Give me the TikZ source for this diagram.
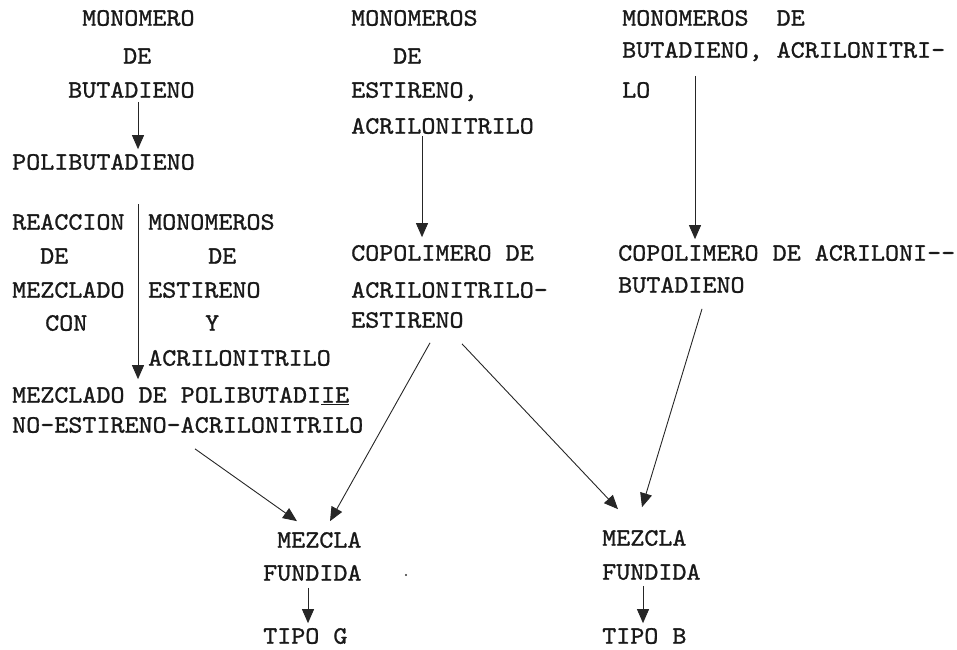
\documentclass[tikz,border=0pt]{standalone}
\usepackage{fontspec}
\newfontfamily\twfont{lmmono10-regular.otf}[FakeStretch=1.07,FakeBold=1.1]
\usetikzlibrary{arrows.meta,calc}
\tikzset{
  tw/.style={inner sep=0pt, anchor=west, text height=15.3pt, text depth=0pt,
    font=\twfont\fontsize{25}{30}\selectfont, text=black!90},
  arr/.style={draw=black!85, line width=0.9pt, -{Triangle[width=12pt,length=14pt]}},
}
\begin{document}
\begin{tikzpicture}[x=1pt,y=1pt]
\useasboundingbox (0,0) rectangle (957,-649);
% column 1
\node[tw] (a1) at (82,-18) {MONOMERO};
\node[tw] (a2) at (123,-56) {DE};
\node[tw] (a3) at (68,-90) {BUTADIENO};
\node[tw] (b1) at (12,-162) {POLIBUTADIENO};
\node[tw] (c1) at (12,-222) {REACCION};
\node[tw] (c2) at (40,-256) {DE};
\node[tw] (c3) at (12,-290) {MEZCLADO};
\node[tw] (c4) at (45,-323) {CON};
\node[tw] (d1) at (148,-222) {MONOMEROS};
\node[tw] (d2) at (208,-256) {DE};
\node[tw] (d3) at (148,-290) {ESTIRENO};
\node[tw] (d4) at (205,-323) {Y};
\node[tw] (d5) at (148,-358) {ACRILONITRILO};
\node[tw] (e1) at (12,-395) {MEZCLADO DE POLIBUTADI\underline{IE}};
\node[tw] (e2) at (12,-425) {NO-ESTIRENO-ACRILONITRILO};
% column 2
\node[tw] (f1) at (351,-18) {MONOMEROS};
\node[tw] (f2) at (393,-56) {DE};
\node[tw] (f3) at (351,-90) {ESTIRENO,};
\node[tw] (f4) at (351,-126) {ACRILONITRILO};
\node[tw] (g1) at (351,-253) {COPOLIMERO DE};
\node[tw] (g2) at (351,-290) {ACRILONITRILO-};
\node[tw] (g3) at (351,-320) {ESTIRENO};
% column 3
\node[tw] (h1) at (622,-18) {MONOMEROS~~DE};
\node[tw] (h2) at (622,-50) {BUTADIENO, ACRILONITRI-};
\node[tw] (h3) at (622,-90) {LO};
\node[tw] (i1) at (618,-253) {COPOLIMERO DE ACRILONI-{}-};
\node[tw] (i2) at (618,-285) {BUTADIENO};
% bottom
\node[tw] (m1) at (277,-540) {MEZCLA};
\node[tw] (m2) at (263,-573) {FUNDIDA};
\node[tw] (t1) at (263,-636) {TIPO G};
\node[tw] (n1) at (602,-538) {MEZCLA};
\node[tw] (n2) at (602,-572) {FUNDIDA};
\node[tw] (u1) at (602,-636) {TIPO B};
\fill[black!80] (406,-575) circle (1.2);
% connectors
\draw[arr] ($(a3.south west)+(70,-4)$) -- ($(b1.north west)+(126,5)$);
\draw[arr] ($(c1.north west)+(126,10)$) -- ($(e1.north west)+(126,8)$);
\draw[arr] ($(f4.south west)+(71,-2)$) -- ($(g1.north west)+(71,8)$);
\draw[arr] ($(h2.south west)+(73,-18)$) -- ($(i1.north west)+(77,6)$);
\draw[arr] ($(e2.south west)+(183,-16)$) -- ($(m1.north west)+(20,11)$);
\draw[arr] ($(g3.south west)+(79,-15)$) -- ($(m1.north west)+(53,11)$);
\draw[arr] ($(g3.south west)+(111,-16)$) -- ($(n1.north west)+(16,21)$);
\draw[arr] ($(i2.south west)+(84,-16)$) -- ($(n1.north west)+(40,23)$);
\draw[arr] ($(m2.south west)+(45,-7)$) -- ($(t1.north west)+(45,5)$);
\draw[arr] ($(n2.south west)+(41,-6)$) -- ($(u1.north west)+(41,5)$);
\end{tikzpicture}
\end{document}
